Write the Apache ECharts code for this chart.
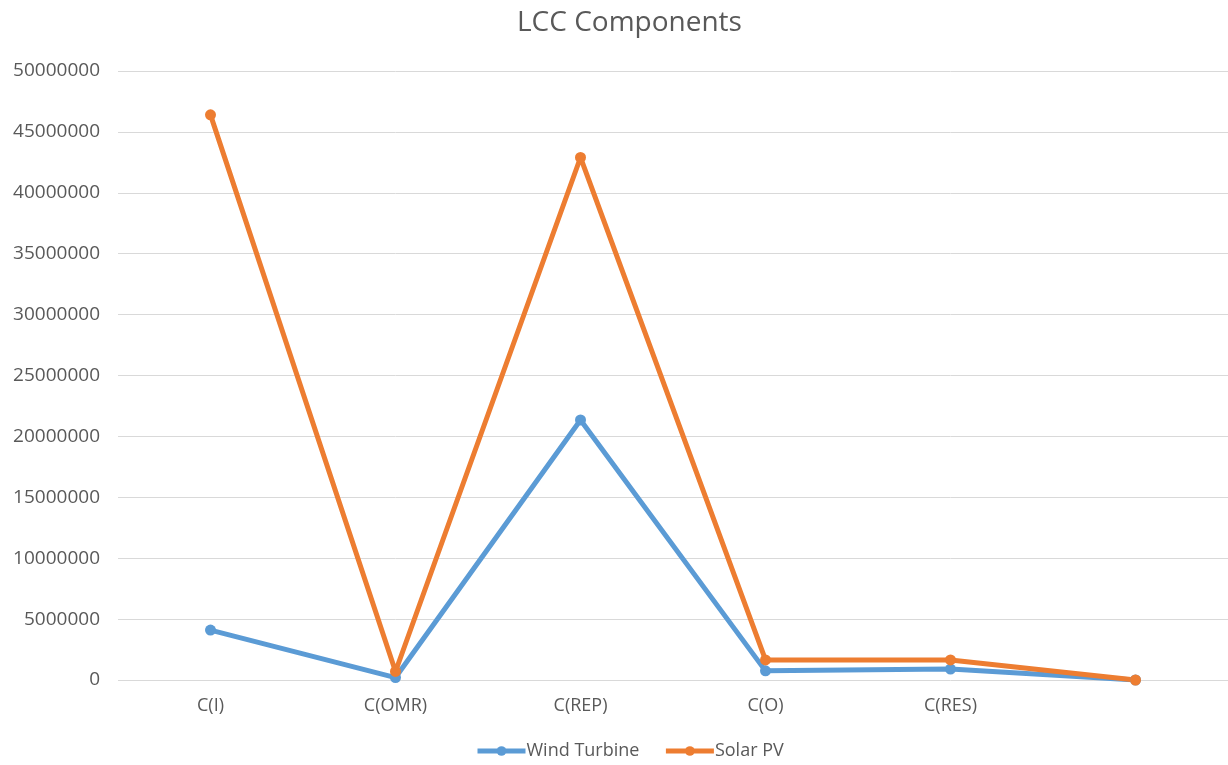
<!DOCTYPE html>
<html><head><meta charset="utf-8">
<script src="https://cdn.jsdelivr.net/npm/echarts@6/dist/echarts.min.js"></script>
<style>html,body{margin:0;padding:0;background:#fff}#c{width:1228px;height:765px}</style>
</head><body><div id="c"></div>
<script>
const categories = ['C(I)', 'C(OMR)', 'C(REP)', 'C(O)', 'C(RES)', ''];
const windTurbine = [4100000, 200000, 21350000, 750000, 900000, 0];
const solarPV = [46400000, 700000, 42900000, 1650000, 1650000, 0];
const chart = echarts.init(document.getElementById('c'));
const txt = '#595959';
chart.setOption({
  animation: false,
  title: { text: 'LCC Components', left: 512, top: 4,
    textStyle: { fontFamily: 'Open Sans', fontSize: 28, fontWeight: 'normal', color: txt } },
  legend: { bottom: 0, left: 470, itemWidth: 48, itemHeight: 12, itemGap: 24,
    lineStyle: { width: 5 },
    textStyle: { fontFamily: 'Open Sans', fontSize: 18, color: txt, padding: [0, 0, 0, -4] },
    data: ['Wind Turbine', 'Solar PV'] },
  grid: { left: 118, right: 0, top: 71, bottom: 85 },
  xAxis: { type: 'category', data: categories, boundaryGap: true,
    axisLine: { show: false }, axisTick: { show: false },
    axisLabel: { fontFamily: 'Open Sans', fontSize: 18, color: txt, margin: 17 } },
  yAxis: { type: 'value', min: 0, max: 50000000, interval: 5000000,
    axisLine: { show: false }, axisTick: { show: false },
    splitLine: { lineStyle: { color: '#d9d9d9', width: 1 } },
    axisLabel: { fontFamily: 'Open Sans', fontSize: 19, color: txt, margin: 18,
      formatter: v => String(v) } },
  series: [
    { name: 'Wind Turbine', type: 'line', data: windTurbine, symbol: 'circle', symbolSize: 11,
      lineStyle: { color: '#5b9bd5', width: 5 }, itemStyle: { color: '#5b9bd5' } },
    { name: 'Solar PV', type: 'line', data: solarPV, symbol: 'circle', symbolSize: 11,
      lineStyle: { color: '#ed7d31', width: 5 }, itemStyle: { color: '#ed7d31' } }
  ]
});
</script></body></html>
